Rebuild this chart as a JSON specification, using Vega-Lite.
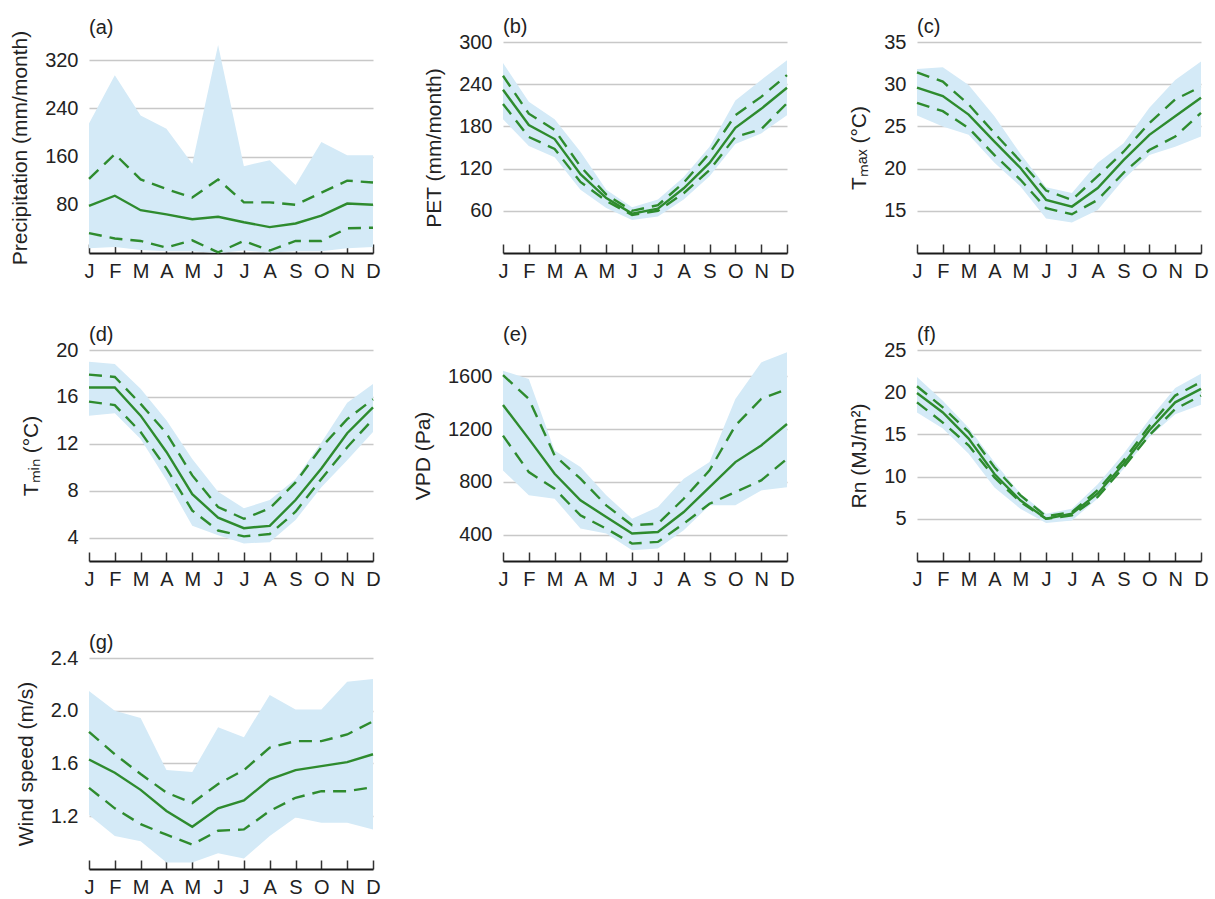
{
"$schema": "https://vega.github.io/schema/vega-lite/v6.json",
"padding": {"left": 9, "top": 17, "right": 5, "bottom": 2},
"columns": 3,
"spacing": {"row": 97, "column": 130},
"bounds": "flush",
"datasets": {"d": [
{"p":"a","m":1,"lo":8,"q1":33,"med":78,"q3":123,"hi":215},
{"p":"a","m":2,"lo":10,"q1":24,"med":95,"q3":164,"hi":295},
{"p":"a","m":3,"lo":5,"q1":20,"med":71,"q3":122,"hi":228},
{"p":"a","m":4,"lo":3,"q1":9,"med":64,"q3":106,"hi":206},
{"p":"a","m":5,"lo":3,"q1":21,"med":56,"q3":92,"hi":148},
{"p":"a","m":6,"lo":0,"q1":1,"med":60,"q3":122,"hi":345},
{"p":"a","m":7,"lo":4,"q1":20,"med":51,"q3":84,"hi":144},
{"p":"a","m":8,"lo":1,"q1":4,"med":43,"q3":84,"hi":154},
{"p":"a","m":9,"lo":3,"q1":20,"med":49,"q3":80,"hi":113},
{"p":"a","m":10,"lo":3,"q1":20,"med":62,"q3":100,"hi":184},
{"p":"a","m":11,"lo":8,"q1":41,"med":82,"q3":120,"hi":162},
{"p":"a","m":12,"lo":10,"q1":42,"med":80,"q3":117,"hi":162},
{"p":"b","m":1,"lo":190,"q1":212,"med":232,"q3":252,"hi":270},
{"p":"b","m":2,"lo":152,"q1":165,"med":182,"q3":198,"hi":215},
{"p":"b","m":3,"lo":136,"q1":148,"med":162,"q3":175,"hi":190},
{"p":"b","m":4,"lo":90,"q1":101,"med":112,"q3":123,"hi":144},
{"p":"b","m":5,"lo":64,"q1":74,"med":78,"q3":83,"hi":90},
{"p":"b","m":6,"lo":47,"q1":54,"med":56,"q3":60,"hi":65},
{"p":"b","m":7,"lo":52,"q1":60,"med":63,"q3":68,"hi":76},
{"p":"b","m":8,"lo":76,"q1":85,"med":92,"q3":100,"hi":108},
{"p":"b","m":9,"lo":109,"q1":118,"med":128,"q3":142,"hi":151},
{"p":"b","m":10,"lo":155,"q1":165,"med":178,"q3":196,"hi":217},
{"p":"b","m":11,"lo":170,"q1":176,"med":205,"q3":222,"hi":246},
{"p":"b","m":12,"lo":196,"q1":213,"med":235,"q3":253,"hi":274},
{"p":"c","m":1,"lo":26.3,"q1":27.8,"med":29.6,"q3":31.4,"hi":31.8},
{"p":"c","m":2,"lo":25.0,"q1":26.8,"med":28.6,"q3":30.3,"hi":32.0},
{"p":"c","m":3,"lo":24.0,"q1":24.8,"med":26.4,"q3":27.6,"hi":29.9},
{"p":"c","m":4,"lo":20.7,"q1":21.6,"med":23.2,"q3":24.2,"hi":26.2},
{"p":"c","m":5,"lo":17.9,"q1":18.7,"med":20.1,"q3":20.9,"hi":21.8},
{"p":"c","m":6,"lo":14.1,"q1":15.3,"med":16.3,"q3":17.4,"hi":17.8},
{"p":"c","m":7,"lo":13.6,"q1":14.6,"med":15.5,"q3":16.3,"hi":17.1},
{"p":"c","m":8,"lo":15.1,"q1":16.3,"med":17.7,"q3":19.1,"hi":20.7},
{"p":"c","m":9,"lo":18.7,"q1":19.5,"med":21.0,"q3":22.0,"hi":23.0},
{"p":"c","m":10,"lo":21.6,"q1":22.2,"med":24.0,"q3":25.4,"hi":27.2},
{"p":"c","m":11,"lo":22.6,"q1":23.8,"med":26.2,"q3":28.2,"hi":30.5},
{"p":"c","m":12,"lo":23.8,"q1":26.6,"med":28.4,"q3":29.7,"hi":32.7},
{"p":"d","m":1,"lo":14.4,"q1":15.6,"med":16.8,"q3":17.9,"hi":19.0},
{"p":"d","m":2,"lo":14.6,"q1":15.3,"med":16.8,"q3":17.7,"hi":18.8},
{"p":"d","m":3,"lo":12.4,"q1":13.0,"med":14.4,"q3":15.4,"hi":16.7},
{"p":"d","m":4,"lo":8.9,"q1":9.9,"med":11.3,"q3":12.9,"hi":14.0},
{"p":"d","m":5,"lo":5.0,"q1":6.3,"med":7.7,"q3":9.3,"hi":10.7},
{"p":"d","m":6,"lo":4.2,"q1":4.6,"med":5.7,"q3":6.6,"hi":7.9},
{"p":"d","m":7,"lo":3.5,"q1":4.1,"med":4.8,"q3":5.6,"hi":6.5},
{"p":"d","m":8,"lo":3.6,"q1":4.3,"med":5.0,"q3":6.5,"hi":7.2},
{"p":"d","m":9,"lo":5.5,"q1":6.2,"med":7.2,"q3":8.7,"hi":9.0},
{"p":"d","m":10,"lo":8.3,"q1":9.0,"med":9.9,"q3":11.7,"hi":12.1},
{"p":"d","m":11,"lo":10.6,"q1":11.7,"med":12.9,"q3":14.1,"hi":15.5},
{"p":"d","m":12,"lo":13.0,"q1":14.1,"med":15.1,"q3":15.8,"hi":17.1},
{"p":"e","m":1,"lo":887,"q1":1151,"med":1383,"q3":1610,"hi":1643},
{"p":"e","m":2,"lo":698,"q1":874,"med":1126,"q3":1429,"hi":1580},
{"p":"e","m":3,"lo":672,"q1":748,"med":861,"q3":1000,"hi":1038},
{"p":"e","m":4,"lo":446,"q1":546,"med":660,"q3":824,"hi":912},
{"p":"e","m":5,"lo":408,"q1":445,"med":534,"q3":622,"hi":698},
{"p":"e","m":6,"lo":282,"q1":332,"med":408,"q3":471,"hi":521},
{"p":"e","m":7,"lo":294,"q1":345,"med":420,"q3":483,"hi":609},
{"p":"e","m":8,"lo":433,"q1":483,"med":571,"q3":672,"hi":824},
{"p":"e","m":9,"lo":622,"q1":634,"med":760,"q3":887,"hi":950},
{"p":"e","m":10,"lo":622,"q1":723,"med":950,"q3":1227,"hi":1429},
{"p":"e","m":11,"lo":735,"q1":811,"med":1076,"q3":1429,"hi":1706},
{"p":"e","m":12,"lo":760,"q1":975,"med":1239,"q3":1504,"hi":1782},
{"p":"f","m":1,"lo":17.6,"q1":18.8,"med":19.9,"q3":20.7,"hi":21.8},
{"p":"f","m":2,"lo":15.7,"q1":16.4,"med":17.6,"q3":18.2,"hi":19.0},
{"p":"f","m":3,"lo":12.7,"q1":13.7,"med":14.5,"q3":15.3,"hi":15.8},
{"p":"f","m":4,"lo":8.7,"q1":9.9,"med":10.3,"q3":11.1,"hi":11.7},
{"p":"f","m":5,"lo":6.2,"q1":7.0,"med":7.2,"q3":7.8,"hi":8.0},
{"p":"f","m":6,"lo":4.5,"q1":5.0,"med":5.0,"q3":5.3,"hi":5.6},
{"p":"f","m":7,"lo":4.8,"q1":5.4,"med":5.6,"q3":5.8,"hi":6.2},
{"p":"f","m":8,"lo":7.4,"q1":7.6,"med":8.0,"q3":8.4,"hi":9.1},
{"p":"f","m":9,"lo":10.9,"q1":11.1,"med":11.5,"q3":11.9,"hi":12.7},
{"p":"f","m":10,"lo":14.7,"q1":14.9,"med":15.5,"q3":16.0,"hi":16.8},
{"p":"f","m":11,"lo":17.4,"q1":18.0,"med":18.8,"q3":19.6,"hi":20.5},
{"p":"f","m":12,"lo":18.5,"q1":19.6,"med":20.4,"q3":21.2,"hi":22.2},
{"p":"g","m":1,"lo":1.21,"q1":1.415,"med":1.63,"q3":1.84,"hi":2.15},
{"p":"g","m":2,"lo":1.05,"q1":1.26,"med":1.53,"q3":1.67,"hi":2.0},
{"p":"g","m":3,"lo":1.01,"q1":1.14,"med":1.40,"q3":1.52,"hi":1.945},
{"p":"g","m":4,"lo":0.85,"q1":1.06,"med":1.24,"q3":1.38,"hi":1.55},
{"p":"g","m":5,"lo":0.85,"q1":0.985,"med":1.12,"q3":1.30,"hi":1.535},
{"p":"g","m":6,"lo":0.92,"q1":1.09,"med":1.26,"q3":1.445,"hi":1.875},
{"p":"g","m":7,"lo":0.88,"q1":1.10,"med":1.32,"q3":1.55,"hi":1.80},
{"p":"g","m":8,"lo":1.05,"q1":1.24,"med":1.48,"q3":1.72,"hi":2.12},
{"p":"g","m":9,"lo":1.19,"q1":1.34,"med":1.55,"q3":1.77,"hi":2.01},
{"p":"g","m":10,"lo":1.15,"q1":1.39,"med":1.58,"q3":1.77,"hi":2.01},
{"p":"g","m":11,"lo":1.15,"q1":1.39,"med":1.61,"q3":1.82,"hi":2.22},
{"p":"g","m":12,"lo":1.10,"q1":1.42,"med":1.67,"q3":1.92,"hi":2.24}
]},
"config": {
  "font": "Liberation Sans",
  "view": {"stroke": null},
  "axis": {"labelFont": "Liberation Sans", "titleFont": "Liberation Sans", "labelFontSize": 20, "titleFontSize": 21, "titleFontWeight": "normal", "labelColor": "#222222", "titleColor": "#222222"},
  "axisY": {"domain": false, "ticks": false, "grid": true, "gridColor": "#c8c8c8", "gridWidth": 1.5, "labelPadding": 11, "titlePadding": 14, "labelFlush": false, "labelOverlap": false},
  "axisX": {"grid": false, "domainColor": "#1a1a1a", "domainWidth": 2, "tickColor": "#333333", "tickWidth": 1.5, "tickSize": -9, "labelPadding": 17, "labelFlush": false, "labelOverlap": false, "labelBound": false},
  "title": {"anchor": "start", "frame": "group", "fontSize": 20, "fontWeight": "normal", "font": "Liberation Sans", "offset": -5, "color": "#222222"},
  "area": {"color": "#d4eaf7"},
  "line": {"color": "#2e8b2e", "strokeWidth": 2.4}
},
"concat": [
{"title": {"text": "(a)", "dy": 3}, "width": 284, "height": 211, "data": {"name": "d"}, "transform": [{"filter": "datum.p == 'a'"}],
 "encoding": {"x": {"field": "m", "type": "quantitative", "scale": {"domain": [1, 12], "nice": false, "zero": false}, "axis": {"title": null, "values": [1,2,3,4,5,6,7,8,9,10,11,12], "labelExpr": "['J','F','M','A','M','J','J','A','S','O','N','D'][datum.value-1]"}}},
 "layer": [
  {"mark": {"type": "area", "clip": false}, "encoding": {"y": {"field": "lo", "type": "quantitative", "title": "Precipitation (mm/month)", "scale": {"domain": [0, 350], "nice": false, "zero": false}, "axis": {"values": [80, 160, 240, 320]}}, "y2": {"field": "hi"}}},
  {"mark": {"type": "line", "strokeDash": [13, 8]}, "encoding": {"y": {"field": "q1", "type": "quantitative", "title": "Precipitation (mm/month)"}}},
  {"mark": {"type": "line", "strokeDash": [13, 8]}, "encoding": {"y": {"field": "q3", "type": "quantitative", "title": "Precipitation (mm/month)"}}},
  {"mark": {"type": "line"}, "encoding": {"y": {"field": "med", "type": "quantitative", "title": "Precipitation (mm/month)"}}}
 ]},
{"title": "(b)", "width": 284, "height": 211, "data": {"name": "d"}, "transform": [{"filter": "datum.p == 'b'"}],
 "encoding": {"x": {"field": "m", "type": "quantitative", "scale": {"domain": [1, 12], "nice": false, "zero": false}, "axis": {"title": null, "values": [1,2,3,4,5,6,7,8,9,10,11,12], "labelExpr": "['J','F','M','A','M','J','J','A','S','O','N','D'][datum.value-1]"}}},
 "layer": [
  {"mark": {"type": "area", "clip": false}, "encoding": {"y": {"field": "lo", "type": "quantitative", "title": "PET (mm/month)", "scale": {"domain": [0, 300], "nice": false, "zero": false}, "axis": {"values": [60, 120, 180, 240, 300]}}, "y2": {"field": "hi"}}},
  {"mark": {"type": "line", "strokeDash": [13, 8]}, "encoding": {"y": {"field": "q1", "type": "quantitative", "title": "PET (mm/month)"}}},
  {"mark": {"type": "line", "strokeDash": [13, 8]}, "encoding": {"y": {"field": "q3", "type": "quantitative", "title": "PET (mm/month)"}}},
  {"mark": {"type": "line"}, "encoding": {"y": {"field": "med", "type": "quantitative", "title": "PET (mm/month)"}}}
 ]},
{"title": "(c)", "width": 284, "height": 211, "data": {"name": "d"}, "transform": [{"filter": "datum.p == 'c'"}],
 "encoding": {"x": {"field": "m", "type": "quantitative", "scale": {"domain": [1, 12], "nice": false, "zero": false}, "axis": {"title": null, "values": [1,2,3,4,5,6,7,8,9,10,11,12], "labelExpr": "['J','F','M','A','M','J','J','A','S','O','N','D'][datum.value-1]"}}},
 "layer": [
  {"mark": {"type": "area", "clip": false}, "encoding": {"y": {"field": "lo", "type": "quantitative", "title": "Tₘₐₓ (°C)", "scale": {"domain": [10, 35], "nice": false, "zero": false}, "axis": {"values": [15, 20, 25, 30, 35]}}, "y2": {"field": "hi"}}},
  {"mark": {"type": "line", "strokeDash": [13, 8]}, "encoding": {"y": {"field": "q1", "type": "quantitative", "title": "Tₘₐₓ (°C)"}}},
  {"mark": {"type": "line", "strokeDash": [13, 8]}, "encoding": {"y": {"field": "q3", "type": "quantitative", "title": "Tₘₐₓ (°C)"}}},
  {"mark": {"type": "line"}, "encoding": {"y": {"field": "med", "type": "quantitative", "title": "Tₘₐₓ (°C)"}}}
 ]},
{"title": "(d)", "width": 284, "height": 211, "data": {"name": "d"}, "transform": [{"filter": "datum.p == 'd'"}],
 "encoding": {"x": {"field": "m", "type": "quantitative", "scale": {"domain": [1, 12], "nice": false, "zero": false}, "axis": {"title": null, "values": [1,2,3,4,5,6,7,8,9,10,11,12], "labelExpr": "['J','F','M','A','M','J','J','A','S','O','N','D'][datum.value-1]"}}},
 "layer": [
  {"mark": {"type": "area", "clip": false}, "encoding": {"y": {"field": "lo", "type": "quantitative", "title": "Tₘᵢₙ (°C)", "scale": {"domain": [2, 20], "nice": false, "zero": false}, "axis": {"values": [4, 8, 12, 16, 20]}}, "y2": {"field": "hi"}}},
  {"mark": {"type": "line", "strokeDash": [13, 8]}, "encoding": {"y": {"field": "q1", "type": "quantitative", "title": "Tₘᵢₙ (°C)"}}},
  {"mark": {"type": "line", "strokeDash": [13, 8]}, "encoding": {"y": {"field": "q3", "type": "quantitative", "title": "Tₘᵢₙ (°C)"}}},
  {"mark": {"type": "line"}, "encoding": {"y": {"field": "med", "type": "quantitative", "title": "Tₘᵢₙ (°C)"}}}
 ]},
{"title": {"text": "(e)", "dy": -10}, "width": 284, "height": 211, "data": {"name": "d"}, "transform": [{"filter": "datum.p == 'e'"}],
 "encoding": {"x": {"field": "m", "type": "quantitative", "scale": {"domain": [1, 12], "nice": false, "zero": false}, "axis": {"title": null, "values": [1,2,3,4,5,6,7,8,9,10,11,12], "labelExpr": "['J','F','M','A','M','J','J','A','S','O','N','D'][datum.value-1]"}}},
 "layer": [
  {"mark": {"type": "area", "clip": false}, "encoding": {"y": {"field": "lo", "type": "quantitative", "title": "VPD (Pa)", "scale": {"domain": [200, 1800], "nice": false, "zero": false}, "axis": {"values": [400, 800, 1200, 1600], "format": "d"}}, "y2": {"field": "hi"}}},
  {"mark": {"type": "line", "strokeDash": [13, 8]}, "encoding": {"y": {"field": "q1", "type": "quantitative", "title": "VPD (Pa)"}}},
  {"mark": {"type": "line", "strokeDash": [13, 8]}, "encoding": {"y": {"field": "q3", "type": "quantitative", "title": "VPD (Pa)"}}},
  {"mark": {"type": "line"}, "encoding": {"y": {"field": "med", "type": "quantitative", "title": "VPD (Pa)"}}}
 ]},
{"title": "(f)", "width": 284, "height": 211, "data": {"name": "d"}, "transform": [{"filter": "datum.p == 'f'"}],
 "encoding": {"x": {"field": "m", "type": "quantitative", "scale": {"domain": [1, 12], "nice": false, "zero": false}, "axis": {"title": null, "values": [1,2,3,4,5,6,7,8,9,10,11,12], "labelExpr": "['J','F','M','A','M','J','J','A','S','O','N','D'][datum.value-1]"}}},
 "layer": [
  {"mark": {"type": "area", "clip": false}, "encoding": {"y": {"field": "lo", "type": "quantitative", "title": "Rn (MJ/m²)", "scale": {"domain": [0, 25], "nice": false, "zero": false}, "axis": {"values": [5, 10, 15, 20, 25]}}, "y2": {"field": "hi"}}},
  {"mark": {"type": "line", "strokeDash": [13, 8]}, "encoding": {"y": {"field": "q1", "type": "quantitative", "title": "Rn (MJ/m²)"}}},
  {"mark": {"type": "line", "strokeDash": [13, 8]}, "encoding": {"y": {"field": "q3", "type": "quantitative", "title": "Rn (MJ/m²)"}}},
  {"mark": {"type": "line"}, "encoding": {"y": {"field": "med", "type": "quantitative", "title": "Rn (MJ/m²)"}}}
 ]},
{"title": "(g)", "width": 284, "height": 211, "data": {"name": "d"}, "transform": [{"filter": "datum.p == 'g'"}],
 "encoding": {"x": {"field": "m", "type": "quantitative", "scale": {"domain": [1, 12], "nice": false, "zero": false}, "axis": {"title": null, "values": [1,2,3,4,5,6,7,8,9,10,11,12], "labelExpr": "['J','F','M','A','M','J','J','A','S','O','N','D'][datum.value-1]"}}},
 "layer": [
  {"mark": {"type": "area", "clip": false}, "encoding": {"y": {"field": "lo", "type": "quantitative", "title": "Wind speed (m/s)", "scale": {"domain": [0.8, 2.4], "nice": false, "zero": false}, "axis": {"values": [1.2, 1.6, 2.0, 2.4], "format": ".1f"}}, "y2": {"field": "hi"}}},
  {"mark": {"type": "line", "strokeDash": [13, 8]}, "encoding": {"y": {"field": "q1", "type": "quantitative", "title": "Wind speed (m/s)"}}},
  {"mark": {"type": "line", "strokeDash": [13, 8]}, "encoding": {"y": {"field": "q3", "type": "quantitative", "title": "Wind speed (m/s)"}}},
  {"mark": {"type": "line"}, "encoding": {"y": {"field": "med", "type": "quantitative", "title": "Wind speed (m/s)"}}}
 ]}
]
}
